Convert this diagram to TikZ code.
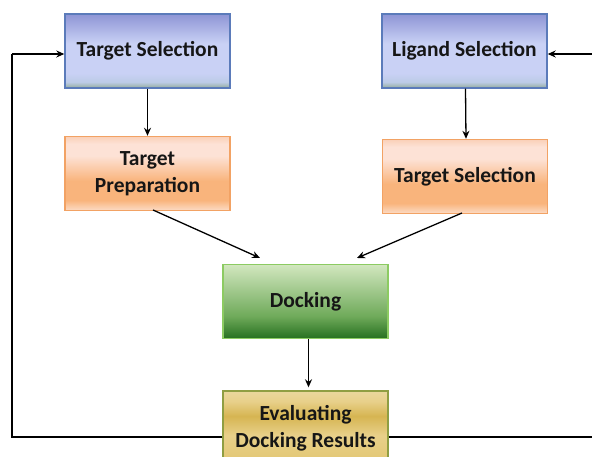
\documentclass[tikz,border=0pt]{standalone}
\usepackage{fontspec}
\setmainfont{Carlito}
\usetikzlibrary{arrows.meta}

\definecolor{selbot}{HTML}{93AC9C}
\definecolor{selmid}{HTML}{BCCBE6}
\definecolor{sellight}{HTML}{C9D1F5}
\definecolor{seltop}{HTML}{8E95D5}
\definecolor{selline}{HTML}{5B7BBA}
\definecolor{preplight}{HTML}{FCDCC6}
\definecolor{preporange}{HTML}{F9B47C}
\definecolor{preppale}{HTML}{FDE2D6}
\definecolor{preptop}{HTML}{FAD0B8}
\definecolor{prepline}{HTML}{F2A264}
\definecolor{dockbot}{HTML}{267020}
\definecolor{dockmid}{HTML}{6FAA5A}
\definecolor{docktop}{HTML}{D2E7BF}
\definecolor{dockline}{HTML}{8CCB62}
\definecolor{evalbot}{HTML}{E2C670}
\definecolor{evallight}{HTML}{E8D08A}
\definecolor{evaldark}{HTML}{D6B552}
\definecolor{evaltop}{HTML}{E9D79C}
\definecolor{evalline}{HTML}{8F9E42}
\definecolor{ink}{HTML}{161616}

% vertical fills, bottom (25bp) to top (75bp)
\pgfdeclareverticalshading{selfill}{100bp}{%
  color(0bp)=(selbot); color(25bp)=(selbot); color(29bp)=(selmid);
  color(35bp)=(sellight); color(55bp)=(sellight); color(75bp)=(seltop); color(100bp)=(seltop)}
\pgfdeclareverticalshading{prepfill}{100bp}{%
  color(0bp)=(preplight); color(25bp)=(preplight); color(32bp)=(preporange);
  color(45bp)=(preporange); color(62bp)=(preppale); color(70bp)=(preppale);
  color(75bp)=(preptop); color(100bp)=(preptop)}
\pgfdeclareverticalshading{dockfill}{100bp}{%
  color(0bp)=(dockbot); color(25bp)=(dockbot); color(40bp)=(dockmid);
  color(75bp)=(docktop); color(100bp)=(docktop)}
\pgfdeclareverticalshading{evalfill}{100bp}{%
  color(0bp)=(evalbot); color(25bp)=(evalbot); color(45bp)=(evallight);
  color(58bp)=(evaldark); color(68bp)=(evallight); color(75bp)=(evaltop); color(100bp)=(evaltop)}

\tikzset{
  stagebox/.style={minimum width=165pt, minimum height=74pt, line width=1.4pt,
    align=center, font=\fontsize{21.5}{27}\selectfont\bfseries, text=ink, inner sep=2pt},
  selbox/.style={stagebox, draw=selline, shading=selfill},
  prepbox/.style={stagebox, draw=prepline, shading=prepfill},
  dockbox/.style={stagebox, draw=dockline, shading=dockfill},
  evalbox/.style={stagebox, draw=evalline, shading=evalfill},
  flow/.style={line width=1.3pt, -{Stealth[length=8pt,width=7pt]}},
  loopline/.style={line width=1.3pt}
}

\begin{document}
\begin{tikzpicture}[x=1pt,y=1pt]
  \clip (0,0) rectangle (592,457);
  \fill[white] (0,0) rectangle (592,457);

  % stages
  \node[selbox]  (tsel) at (147.5,406)   {Target Selection};
  \node[selbox]  (lsel) at (464.5,406)   {Ligand Selection};
  \node[prepbox] (tprep) at (147.5,283.5) {Target\\Preparation};
  \node[prepbox] (lprep) at (465,280.5)  {Target Selection};
  \node[dockbox] (dock) at (305.5,155.5) {Docking};
  \node[evalbox] (eval) at (305.5,29)    {Evaluating\\Docking Results};

  % arrow ends near the docking box
  \coordinate (tprepout) at (153,247);
  \coordinate (lprepout) at (462,244);
  \coordinate (dockinl) at (260,199);
  \coordinate (dockinr) at (357,199);

  % forward flow
  \draw[flow] (tsel.south) -- (tprep.north);
  \draw[flow] ([xshift=1pt]lsel.south) -- ([xshift=1pt]lprep.north);
  \draw[flow] (tprepout) -- (dockinl);
  \draw[flow] (lprepout) -- (dockinr);
  \draw[flow] ([xshift=3pt]dock.south) -- ([xshift=3pt,yshift=3pt]eval.north);

  % feedback loop from the evaluation back to both selections
  \coordinate (loopl) at (12,20);
  \coordinate (loopr) at (600,20);
  \draw[loopline] (eval.west |- loopl) -- (loopl) -- (12,403);
  \draw[flow] (12,403) -- (tsel.west |- 0,403);
  \draw[loopline] (eval.east |- loopr) -- (loopr);
  \draw[flow] (600,403) -- (lsel.east |- 0,403);
\end{tikzpicture}
\end{document}
